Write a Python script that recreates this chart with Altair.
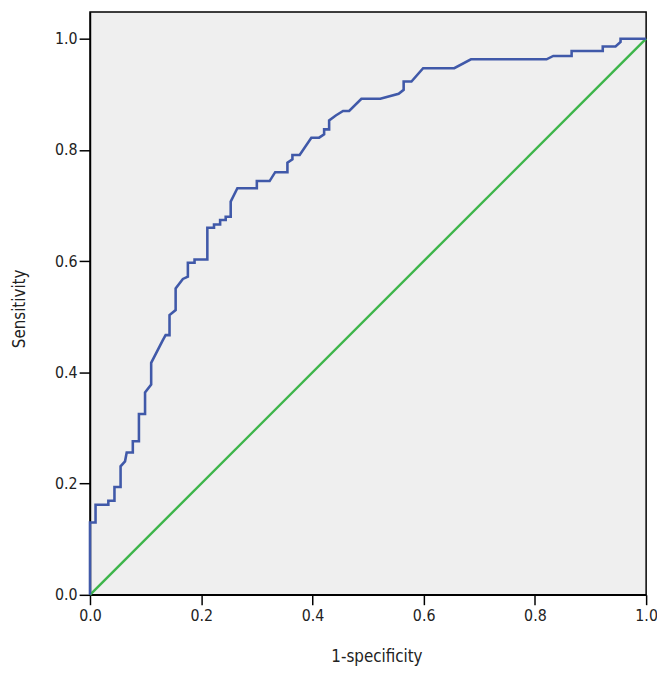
import altair as alt
import pandas as pd

fpr = [0.000, 0.000, 0.010, 0.010, 0.033, 0.033, 0.044, 0.044, 0.055, 0.055,
       0.063, 0.066, 0.077, 0.077, 0.088, 0.088, 0.099, 0.099, 0.110, 0.110,
       0.131, 0.136, 0.143, 0.143, 0.154, 0.154, 0.167, 0.176, 0.176, 0.188,
       0.188, 0.211, 0.211, 0.223, 0.223, 0.234, 0.234, 0.244, 0.244, 0.253,
       0.253, 0.265, 0.300, 0.300, 0.323, 0.333, 0.355, 0.355, 0.364, 0.364,
       0.377, 0.398, 0.412, 0.421, 0.421, 0.430, 0.430, 0.442, 0.455, 0.466,
       0.488, 0.522, 0.555, 0.564, 0.564, 0.578, 0.599, 0.655, 0.685, 0.821,
       0.833, 0.866, 0.866, 0.922, 0.922, 0.945, 0.954, 0.954, 1.000]
tpr = [0.000, 0.130, 0.130, 0.162, 0.162, 0.169, 0.169, 0.194, 0.194, 0.231,
       0.240, 0.256, 0.256, 0.276, 0.276, 0.325, 0.325, 0.364, 0.378, 0.417,
       0.458, 0.467, 0.467, 0.503, 0.512, 0.551, 0.568, 0.572, 0.597, 0.597,
       0.603, 0.603, 0.660, 0.660, 0.666, 0.666, 0.674, 0.674, 0.680, 0.680,
       0.707, 0.731, 0.731, 0.744, 0.744, 0.760, 0.760, 0.777, 0.783, 0.791,
       0.791, 0.822, 0.822, 0.828, 0.837, 0.837, 0.853, 0.862, 0.870, 0.870,
       0.892, 0.892, 0.901, 0.908, 0.923, 0.923, 0.947, 0.947, 0.963, 0.963,
       0.969, 0.969, 0.978, 0.978, 0.986, 0.986, 0.994, 1.000, 1.000]
diag_x = [0.0, 1.0]
diag_y = [0.0, 1.0]
tick_values = [0.0, 0.2, 0.4, 0.6, 0.8, 1.0]

roc = pd.DataFrame({"fpr": fpr, "tpr": tpr, "i": list(range(len(fpr)))})
diag = pd.DataFrame({"fpr": diag_x, "tpr": diag_y, "i": [0, 1]})

FONT = "Liberation Sans Narrow, DejaVu Sans Condensed, sans-serif"
common = dict(labelFont=FONT, titleFont=FONT, labelFontSize=16, titleFontSize=17,
              labelColor="#222222", titleColor="#222222", titleFontWeight="normal",
              grid=False, tickWidth=1.5, domainWidth=1.5, labelFlush=False,
              domainColor="black", tickColor="black", format=".1f",
              values=tick_values)

xs = alt.Scale(domain=[0, 1], nice=False, zero=False)
ys = alt.Scale(domain=[0, 1.048], nice=False, zero=False)

xaxis = alt.Axis(title="1-specificity", tickSize=10, labelPadding=3,
                 titleX=290, titleY=62, titleBaseline="middle", **common)
yaxis = alt.Axis(title="Sensitivity", tickSize=11, labelPadding=2,
                 titleX=-71, titleY=300, titleBaseline="middle", titleAngle=-90,
                 **common)

curve = alt.Chart(roc).mark_line(color="#4059a9", strokeWidth=2.6, clip=False).encode(
    x=alt.X("fpr:Q", scale=xs, axis=xaxis),
    y=alt.Y("tpr:Q", scale=ys, axis=yaxis),
    order="i:Q",
)
ref = alt.Chart(diag).mark_line(color="#3db54a", strokeWidth=2.4).encode(
    x=alt.X("fpr:Q", scale=xs),
    y=alt.Y("tpr:Q", scale=ys),
    order="i:Q",
)

chart = (ref + curve).properties(
    width=563, height=590,
    background="white",
    autosize=alt.AutoSizeParams(type="none"),
    padding={"left": 83, "top": 0, "right": 11, "bottom": 68},
).configure_view(
    fill="#efefef", stroke="black", strokeWidth=1.5
)

chart.save("out.html", embed_options={"renderer": "svg", "actions": False})
